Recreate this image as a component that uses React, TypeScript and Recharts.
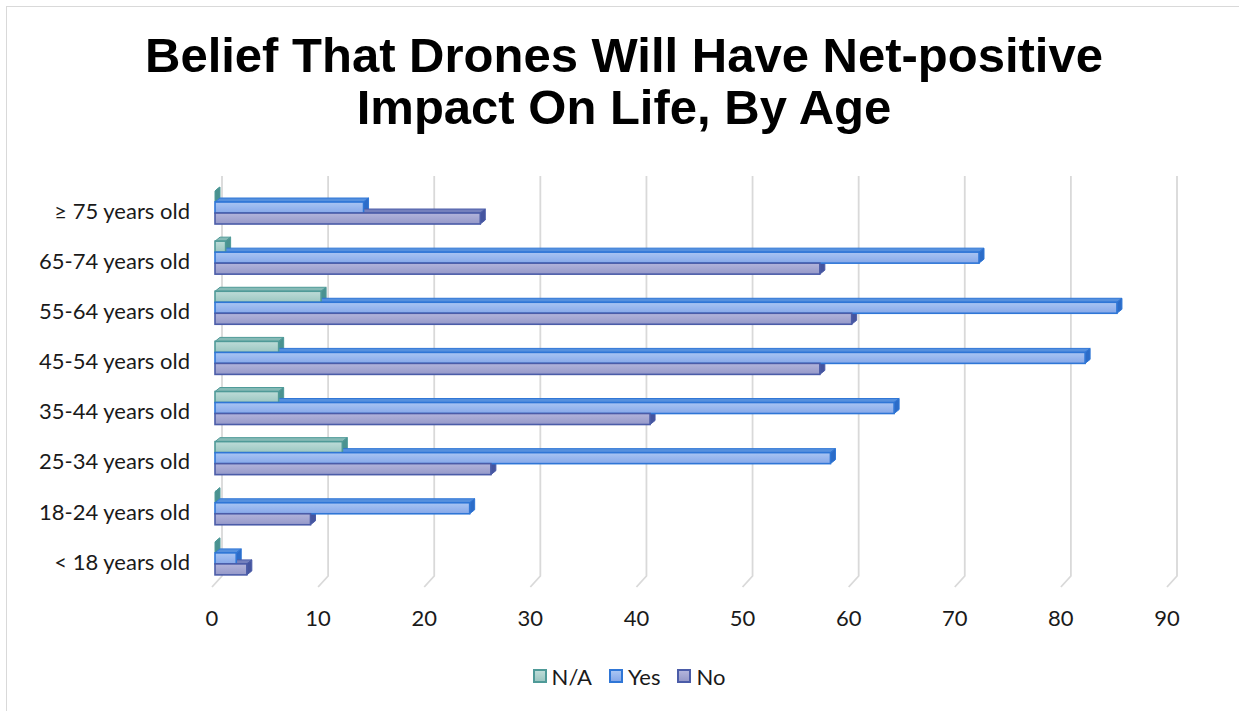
import React from 'react';
import { BarChart, Bar, XAxis, YAxis, CartesianGrid } from 'recharts';

// Age groups, listed top to bottom as drawn
const categories = [
  '≥ 75 years old',
  '65-74 years old',
  '55-64 years old',
  '45-54 years old',
  '35-44 years old',
  '25-34 years old',
  '18-24 years old',
  '< 18 years old',
];
const naValues = [0, 1, 10, 6, 6, 12, 0, 0];
const yesValues = [14, 72, 85, 82, 64, 58, 24, 2];
const noValues = [25, 57, 60, 57, 41, 26, 9, 3];
const xTicks = [0, 10, 20, 30, 40, 50, 60, 70, 80, 90];

const titleLines = ['Belief That Drones Will Have Net-positive', 'Impact On Life, By Age'];

const rows = categories.map((age, i) => ({
  age,
  na: naValues[i],
  yes: yesValues[i],
  no: noValues[i],
}));

type SeriesStyle = {
  key: string;
  name: string;
  light: string;
  dark: string;
  stroke: string;
  top: string;
  side: string;
};

const series: SeriesStyle[] = [
  { key: 'na', name: 'N/A', light: '#bddcd8', dark: '#9bc6c1', stroke: '#4f9a98', top: '#86bab6', side: '#4a9290' },
  { key: 'yes', name: 'Yes', light: '#a9c5f3', dark: '#86a8e9', stroke: '#2f76d6', top: '#5590de', side: '#2c6cc8' },
  { key: 'no', name: 'No', light: '#b2b4db', dark: '#9599c9', stroke: '#4b5ca8', top: '#7480bd', side: '#45559f' },
];

const W = 1239;
const H = 711;
const margin = { top: 183, right: 69, bottom: 87, left: 0 };
const DEPTH_X = 5;
const DEPTH_Y = 4;
const FONT = 'Lato, "Open Sans", sans-serif';
const TEXT = '#1a1a1a';

// Top and right faces of a 3D bar (drawn underneath all front faces)
const backShape = (s: SeriesStyle) => (props: any) => {
  const { x, y, width, height } = props;
  const w = Math.max(0, width || 0);
  const top = `M${x},${y} L${x + DEPTH_X},${y - DEPTH_Y} L${x + w + DEPTH_X},${y - DEPTH_Y} L${x + w},${y} Z`;
  const side = `M${x + w},${y} L${x + w + DEPTH_X},${y - DEPTH_Y} L${x + w + DEPTH_X},${y + height - DEPTH_Y} L${x + w},${y + height} Z`;
  return (
    <g>
      <path d={top} fill={s.top} stroke={s.stroke} strokeWidth={1} strokeLinejoin="round" />
      <path d={side} fill={s.side} stroke={s.stroke} strokeWidth={1} strokeLinejoin="round" />
    </g>
  );
};

// Front face of a 3D bar
const frontShape = (s: SeriesStyle) => (props: any) => {
  const { x, y, width, height } = props;
  const w = Math.max(0, width || 0);
  if (w <= 0) return <g />;
  return (
    <rect
      x={x}
      y={y}
      width={w}
      height={height}
      fill={`url(#grad-${s.key})`}
      stroke={s.stroke}
      strokeWidth={1.6}
    />
  );
};

// Vertical gridline standing on the back wall, with its foot running forward on the floor
const gridLine = (p: any) => {
  const { x1, y1, y2, key } = p;
  const d = `M${x1 + 7},${y1 - 7} L${x1 + 7},${y2 - 8} L${x1 - 3},${y2 + 3}`;
  return <path key={key} d={d} fill="none" stroke="#d9d9d9" strokeWidth={1.8} />;
};

const YTick = (p: any) => (
  <text x={p.x} y={p.y + 3} dy="0.35em" textAnchor="end" fill={TEXT} fontFamily={FONT} fontSize={22}>
    {p.payload.value}
  </text>
);

const XTick = (p: any) => (
  <text x={p.x - 3} y={p.y} dy="0.35em" textAnchor="middle" fill={TEXT} fontFamily={FONT} fontSize={22}>
    {p.payload.value}
  </text>
);

const NoTick = () => <g />;

const layer: React.CSSProperties = { position: 'absolute', left: 0, top: 0 };

export default function App() {
  return (
    <div style={{ position: 'absolute', left: 0, top: 0, width: W, height: H, overflow: 'hidden', background: '#fff' }}>
      <div
        style={{
          position: 'absolute',
          left: 6,
          top: 6,
          width: 1260,
          height: 730,
          border: '1.5px solid #d9d9d9',
          boxSizing: 'border-box',
        }}
      />
      <div
        style={{
          position: 'absolute',
          left: 0,
          top: 29,
          width: 1248,
          textAlign: 'center',
          fontFamily: '"Liberation Sans", Arial, sans-serif',
          fontWeight: 700,
          fontSize: 49,
          lineHeight: '52px',
          color: '#000',
        }}
      >
        {titleLines.map((t) => (
          <div key={t}>{t}</div>
        ))}
      </div>

      {/* back layer: gridlines and the top/side faces of every bar */}
      <div style={layer}>
        <BarChart width={W} height={H} data={rows} layout="vertical" margin={margin} barCategoryGap="16%" barGap={0}>
          <CartesianGrid horizontal={false} vertical={gridLine} />
          <XAxis
            type="number"
            domain={[0, 90]}
            ticks={xTicks}
            interval={0}
            height={40}
            axisLine={false}
            tickLine={false}
            tick={<NoTick />}
          />
          <YAxis type="category" dataKey="age" width={215} axisLine={false} tickLine={false} tick={<NoTick />} />
          {series.map((s) => (
            <Bar key={s.key} dataKey={s.key} name={s.name} isAnimationActive={false} shape={backShape(s)} />
          ))}
        </BarChart>
      </div>

      {/* front layer: bar front faces and axis labels */}
      <div style={layer}>
        <BarChart width={W} height={H} data={rows} layout="vertical" margin={margin} barCategoryGap="16%" barGap={0}>
          <defs>
            {series.map((s) => (
              <linearGradient key={s.key} id={`grad-${s.key}`} x1="0" y1="0" x2="0" y2="1">
                <stop offset="0%" stopColor={s.light} />
                <stop offset="100%" stopColor={s.dark} />
              </linearGradient>
            ))}
          </defs>
          <XAxis
            type="number"
            domain={[0, 90]}
            ticks={xTicks}
            interval={0}
            height={40}
            axisLine={false}
            tickLine={false}
            tickSize={0}
            tickMargin={34}
            tick={<XTick />}
          />
          <YAxis
            type="category"
            dataKey="age"
            width={215}
            axisLine={false}
            tickLine={false}
            tickSize={0}
            tickMargin={25}
            tick={<YTick />}
          />
          {series.map((s) => (
            <Bar key={s.key} dataKey={s.key} name={s.name} isAnimationActive={false} shape={frontShape(s)} />
          ))}
        </BarChart>
      </div>

      {/* legend */}
      <div
        style={{
          position: 'absolute',
          left: 0,
          top: 661,
          width: 1258,
          height: 30,
          display: 'flex',
          justifyContent: 'center',
          alignItems: 'center',
          fontFamily: FONT,
          fontSize: 22,
          color: TEXT,
        }}
      >
        {series.map((s, i) => (
          <span
            key={s.key}
            style={{ display: 'inline-flex', alignItems: 'center', marginRight: i < series.length - 1 ? 17 : 0 }}
          >
            <span
              style={{
                display: 'inline-block',
                width: 14,
                height: 14,
                boxSizing: 'border-box',
                border: `2px solid ${s.stroke}`,
                background: `linear-gradient(${s.light}, ${s.dark})`,
              }}
            />
            <span style={{ marginLeft: 5 }}>{s.name}</span>
          </span>
        ))}
      </div>
    </div>
  );
}
